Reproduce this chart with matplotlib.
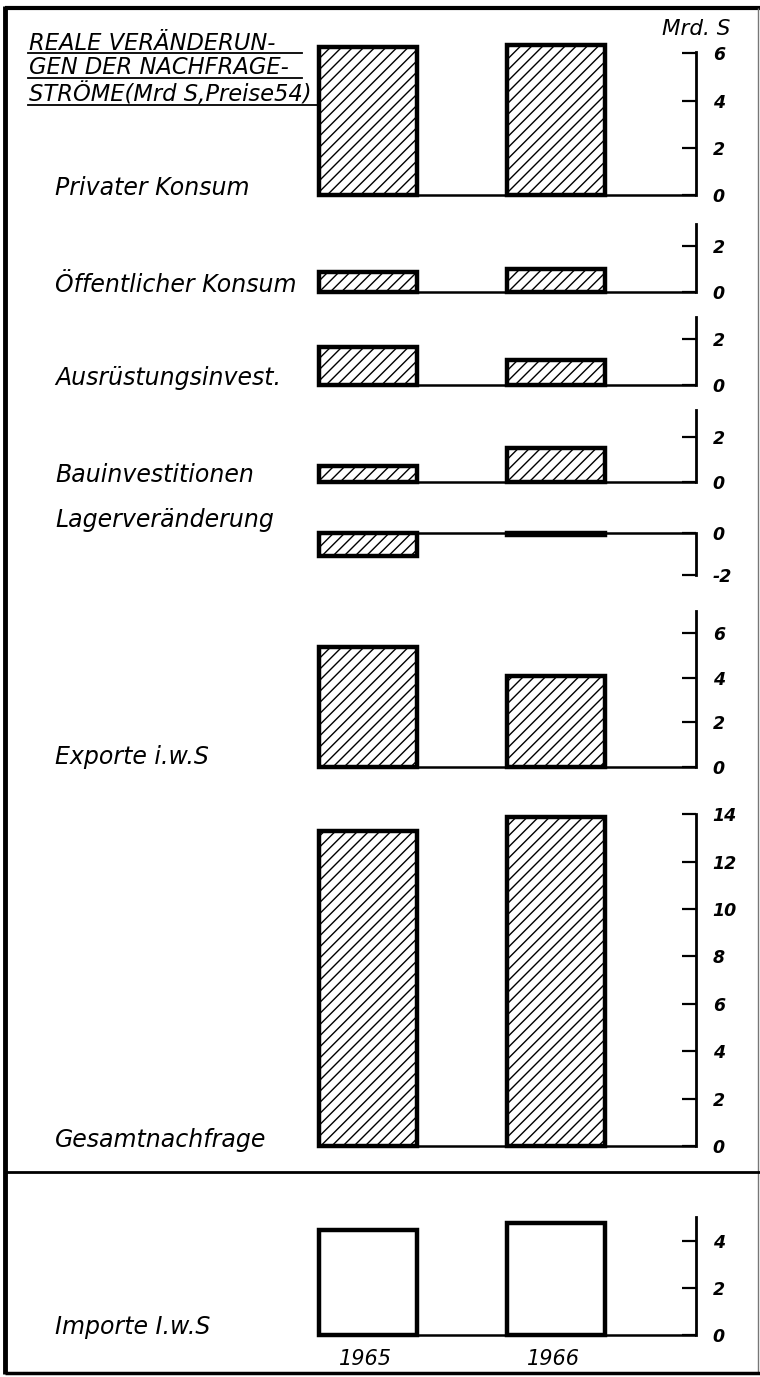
import matplotlib
matplotlib.use("Agg")
import matplotlib.pyplot as plt
from matplotlib.lines import Line2D

# ---------------- data ----------------
categories = ["Privater Konsum", "Öffentlicher Konsum", "Ausrüstungsinvest.",
              "Bauinvestitionen", "Lagerveränderung", "Exporte i.w.S",
              "Gesamtnachfrage", "Importe I.w.S"]
years = ["1965", "1966"]
v1965 = [6.25, 0.85, 1.65, 0.7, -1.1, 5.4, 13.3, 4.45]
v1966 = [6.35, 1.0, 1.1, 1.5, -0.1, 4.1, 13.9, 4.75]
tick_values = [[0, 2, 4, 6], [0, 2], [0, 2], [0, 2], [-2, 0], [0, 2, 4, 6],
               [0, 2, 4, 6, 8, 10, 12, 14], [0, 2, 4]]
axis_ranges = [(0, 6.05), (0, 2.95), (0, 3.0), (0, 3.2), (-2, 0), (0, 7.0),
               (0, 14), (0, 5.0)]
title_lines = ["REALE VERÄNDERUN-", "GEN DER NACHFRAGE-", "STRÖME(Mrd S,Preise54)"]
unit_label = "Mrd. S"

# ---------------- layout (pixels) ----------------
W, H = 760, 1377
zero_y = [195, 292, 385, 482, 533, 767, 1146, 1335]
px_per_unit = [23.6, 23.2, 22.8, 22.5, 21.0, 22.3, 23.7, 23.6]
label_y = [188, 285, 378, 475, 520, 757, 1140, 1327]
X_LEFT, X_AXIS = 320, 696
C0, C1 = 368, 556
BAR_W = 98

fig = plt.figure(figsize=(W / 100, H / 100), dpi=100)
fig.patch.set_facecolor("white")
plt.rcParams["hatch.linewidth"] = 1.0

ppx = C1 - C0
xlim = ((X_LEFT - C0) / ppx, (X_AXIS - C0) / ppx)
FONT = "DejaVu Sans"

for i, cat in enumerate(categories):
    lo_b, hi_b = axis_ranges[i]
    vals = [v1965[i], v1966[i]]
    lo = min(lo_b, min(vals), 0) - 0.2
    hi = max(hi_b, max(vals)) + 0.2
    s = px_per_unit[i]
    z = zero_y[i]
    top_px = z - hi * s
    bot_px = z - lo * s
    ax = fig.add_axes([X_LEFT / W, 1 - bot_px / H, (X_AXIS - X_LEFT) / W,
                       (bot_px - top_px) / H])
    ax.set_xlim(*xlim)
    ax.set_ylim(lo, hi)
    ax.patch.set_visible(False)
    for sp in ["top", "left", "bottom"]:
        ax.spines[sp].set_visible(False)
    ax.spines["right"].set_bounds(lo_b, hi_b)
    ax.spines["right"].set_linewidth(2)
    ax.yaxis.tick_right()
    ax.set_yticks(tick_values[i])
    ax.set_yticklabels([str(t) for t in tick_values[i]])
    ax.tick_params(axis="y", direction="in", length=10, width=1.6, pad=12,
                   labelsize=12.5)
    for lbl in ax.get_yticklabels():
        lbl.set_fontstyle("italic")
        lbl.set_fontweight("bold")
    ax.axhline(0, color="black", lw=1.8, zorder=1)
    hatched = i < len(categories) - 1
    ax.bar([0, 1], vals, width=BAR_W / ppx, facecolor="white",
           edgecolor="black", linewidth=3.2, hatch="///" if hatched else None,
           clip_on=False, zorder=2)
    if i == len(categories) - 1:
        ax.set_xticks([-0.016, 0.984], labels=years)
        ax.tick_params(axis="x", length=0, pad=7, labelsize=15)
        for lbl in ax.get_xticklabels():
            lbl.set_fontstyle("italic")
    else:
        ax.set_xticks([])
    fig.text(55 / W, 1 - label_y[i] / H, cat, ha="left", va="center",
             fontsize=17, fontstyle="italic", family=FONT)

# title with underlines
title_y = [43, 67, 94]
under_y = [53, 78, 105]
under_x1 = [302, 302, 318]
for t, ty, uy, ux in zip(title_lines, title_y, under_y, under_x1):
    fig.text(29 / W, 1 - ty / H, t, ha="left", va="center", fontsize=16.3,
             fontstyle="italic", family=FONT)
    fig.add_artist(Line2D([28 / W, ux / W], [1 - uy / H, 1 - uy / H],
                          color="black", lw=1.3, transform=fig.transFigure))

fig.text(662 / W, 1 - 29 / H, unit_label, ha="left", va="center", fontsize=15.5,
         fontstyle="italic", family=FONT)

# frame
def fline(x0, y0, x1, y1, lw, color="black"):
    fig.add_artist(Line2D([x0 / W, x1 / W], [1 - y0 / H, 1 - y1 / H],
                          color=color, lw=lw, transform=fig.transFigure,
                          solid_capstyle="butt"))

fline(5, 8, 760, 8, 3)
fline(5, 6, 5, 1374, 3.5)
fline(758, 8, 758, 1373, 1, "#777777")
fline(5, 1172, 760, 1172, 2)
fline(5, 1373, 760, 1373, 2.5)

fig.savefig("out.png", dpi=100, facecolor="white")
